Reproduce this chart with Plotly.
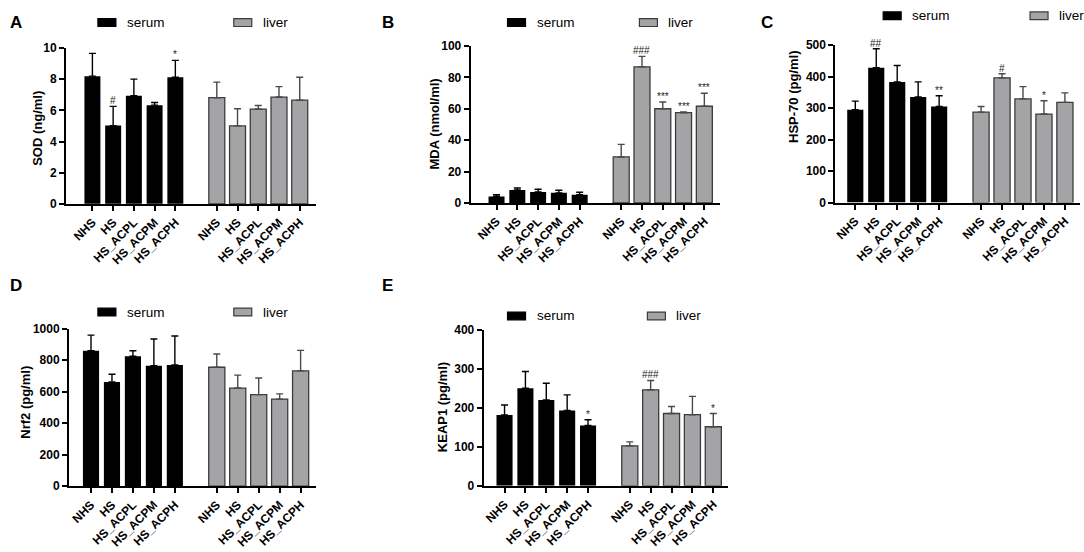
import plotly.graph_objects as go

W, H = 1084, 552

groups = ["NHS", "HS", "HS_ACPL", "HS_ACPM", "HS_ACPH"]

# mean and SD
sod_serum = [8.19, 5.02, 6.94, 6.33, 8.12]
sod_serum_sd = [1.46, 1.23, 1.06, 0.17, 1.08]
sod_liver = [6.81, 5.00, 6.08, 6.85, 6.65]
sod_liver_sd = [1.00, 1.10, 0.23, 0.67, 1.47]

mda_serum = [4.1, 8.3, 7.0, 6.4, 5.2]
mda_serum_sd = [1.1, 1.2, 1.7, 1.7, 1.6]
mda_liver = [29.3, 86.7, 60.0, 57.5, 61.6]
mda_liver_sd = [8.0, 6.7, 4.3, 0.5, 8.3]

hsp_serum = [295, 428, 383, 335, 305]
hsp_serum_sd = [27, 60, 52, 48, 34]
hsp_liver = [287, 396, 329, 281, 318]
hsp_liver_sd = [18, 13, 39, 42, 30]

nrf_serum = [860, 662, 825, 765, 769]
nrf_serum_sd = [99, 49, 35, 169, 184]
nrf_liver = [755, 623, 581, 553, 732]
nrf_liver_sd = [84, 82, 106, 33, 130]

keap_serum = [182, 251, 221, 194, 155]
keap_serum_sd = [26, 43, 43, 40, 15]
keap_liver = [103, 247, 186, 183, 152]
keap_liver_sd = [10, 24, 18, 47, 34]

# significance marks
sod_serum_sig = ["", "#", "", "", "*"]
sod_liver_sig = ["", "", "", "", ""]
mda_serum_sig = ["", "", "", "", ""]
mda_liver_sig = ["", "###", "***", "***", "***"]
hsp_serum_sig = ["", "##", "", "", "**"]
hsp_liver_sig = ["", "#", "", "*", ""]
nrf_serum_sig = ["", "", "", "", ""]
nrf_liver_sig = ["", "", "", "", ""]
keap_serum_sig = ["", "", "", "", "*"]
keap_liver_sig = ["", "###", "", "", "*"]

serum_pos = [0, 1, 2, 3, 4]
liver_pos = [6, 7, 8, 9, 10]

FONT = "Arial, Liberation Sans, sans-serif"
LIVER_FILL = "#a4a4a7"
LIVER_LINE = "#3c3c3c"


def px(x):
    return x / W


def py(y):
    return 1 - y / H


# panel layout in pixels: axis left/right, y of zero / y of top, x range, y range
panels = [
    dict(letter="A", title="SOD (ng/ml)", ymax=10, dtick=2,
         serum=(sod_serum, sod_serum_sd, sod_serum_sig), liver=(sod_liver, sod_liver_sd, sod_liver_sig),
         x0=65, x1=315, y0=202, y1=42, xr=[-1.277, 10.771], tx=37, ty=124,
         lab=(15, 16), leg=(97, 233, 16)),
    dict(letter="B", title="MDA (nmol/ml)", ymax=100, dtick=20,
         serum=(mda_serum, mda_serum_sd, mda_serum_sig), liver=(mda_liver, mda_liver_sd, mda_liver_sig),
         x0=470, x1=720, y0=201, y1=40, xr=[-1.25, 10.77], tx=434, ty=120,
         lab=(387, 16), leg=(507, 639, 16)),
    dict(letter="C", title="HSP-70 (pg/ml)", ymax=500, dtick=100,
         serum=(hsp_serum, hsp_serum_sd, hsp_serum_sig), liver=(hsp_liver, hsp_liver_sd, hsp_liver_sig),
         x0=835, x1=1080, y0=200.7, y1=39, xr=[-0.957, 10.72], tx=793, ty=92,
         lab=(767, 16), leg=(883, 1030, 9)),
    dict(letter="D", title="Nrf2 (pg/ml)", ymax=1000, dtick=200,
         serum=(nrf_serum, nrf_serum_sd, nrf_serum_sig), liver=(nrf_liver, nrf_liver_sd, nrf_liver_sig),
         x0=68, x1=315, y0=491.7, y1=330, xr=[-1.053, 10.72], tx=25, ty=405,
         lab=(15, 286), leg=(97, 233, 313)),
    dict(letter="E", title="KEAP1 (pg/ml)", ymax=400, dtick=100,
         serum=(keap_serum, keap_serum_sd, keap_serum_sig), liver=(keap_liver, keap_liver_sd, keap_liver_sig),
         x0=483, x1=728, y0=491.3, y1=331.7, xr=[-1.005, 10.72], tx=442, ty=411,
         lab=(387, 286), leg=(507, 647, 317)),
]

fig = go.Figure()
annotations = []
shapes = []

for i, p in enumerate(panels, start=1):
    xa = "x" if i == 1 else f"x{i}"
    ya = "y" if i == 1 else f"y{i}"
    for pos, (vals, sd, sig), name in [(serum_pos, p["serum"], "serum"), (liver_pos, p["liver"], "liver")]:
        is_serum = name == "serum"
        fig.add_trace(go.Bar(
            x=pos, y=vals, width=0.77, name=name, showlegend=False,
            xaxis=xa, yaxis=ya,
            marker=dict(color="black" if is_serum else LIVER_FILL,
                        line=dict(color="black" if is_serum else LIVER_LINE, width=0 if is_serum else 1.3)),
            error_y=dict(type="data", symmetric=False, array=sd, arrayminus=[0] * len(sd),
                         color="black" if is_serum else "#4a4a4a", thickness=1.4, width=3.5),
        ))
        for xv, v, s, mark in zip(pos, vals, sd, sig):
            if mark:
                annotations.append(dict(
                    x=xv, y=v + s, xref=xa, yref=ya, text=mark, showarrow=False,
                    yanchor="bottom", yshift=-2,
                    font=dict(family=FONT, size=10, color="#222222")))

    axis_common = dict(showline=True, linecolor="black", linewidth=1.8, ticks="outside",
                       ticklen=5, tickwidth=1.5, tickcolor="black", showgrid=False, zeroline=False)
    fig.layout[f"xaxis{i if i > 1 else ''}"] = dict(
        domain=[px(p["x0"]), px(p["x1"])], range=p["xr"], anchor=ya,
        tickvals=serum_pos + liver_pos, ticktext=groups + groups, tickangle=-45,
        tickfont=dict(family=FONT, size=12, color="black", weight="bold"), **axis_common)
    fig.layout[f"yaxis{i if i > 1 else ''}"] = dict(
        domain=[py(p["y0"]), py(p["y1"])], range=[0, p["ymax"]], dtick=p["dtick"], anchor=xa,
        tickfont=dict(family=FONT, size=12, color="black", weight="bold"), **axis_common)

    annotations.append(dict(
        x=px(p["tx"]), y=py(p["ty"]), xref="paper", yref="paper", text=p["title"], textangle=-90,
        xanchor="center", yanchor="middle",
        showarrow=False, font=dict(family=FONT, size=13, color="black", weight="bold")))
    annotations.append(dict(
        x=px(p["lab"][0]), y=py(p["lab"][1]), xref="paper", yref="paper", text=p["letter"],
        showarrow=False, xanchor="center", yanchor="middle",
        font=dict(family=FONT, size=17, color="black", weight="bold")))

    # legend boxes drawn per panel, as in the source figure
    sx, lx, ly = p["leg"]
    for bx, fill, line, label in [(sx, "black", "black", "serum"), (lx, LIVER_FILL, LIVER_LINE, "liver")]:
        shapes.append(dict(type="rect", xref="paper", yref="paper",
                           x0=px(bx), x1=px(bx + 18), y0=py(ly + 4), y1=py(ly - 4),
                           fillcolor=fill, line=dict(color=line, width=1.2)))
        annotations.append(dict(
            x=px(bx + 27), y=py(ly), xref="paper", yref="paper", text=label, showarrow=False,
            xanchor="left", yanchor="middle", font=dict(family=FONT, size=13.5, color="black")))

fig.update_layout(
    width=W, height=H, margin=dict(l=0, r=0, t=0, b=0),
    paper_bgcolor="white", plot_bgcolor="white",
    barmode="overlay", annotations=annotations, shapes=shapes,
)

# pin the figure to the page corner so the window shows it edge to edge
pin = ("document.body.style.margin='0';"
       "var d=document.getElementById('{plot_id}');"
       "d.style.position='absolute';d.style.left='0';d.style.top='0';")
fig.write_html("out.html", post_script=pin, config={"displayModeBar": False})
